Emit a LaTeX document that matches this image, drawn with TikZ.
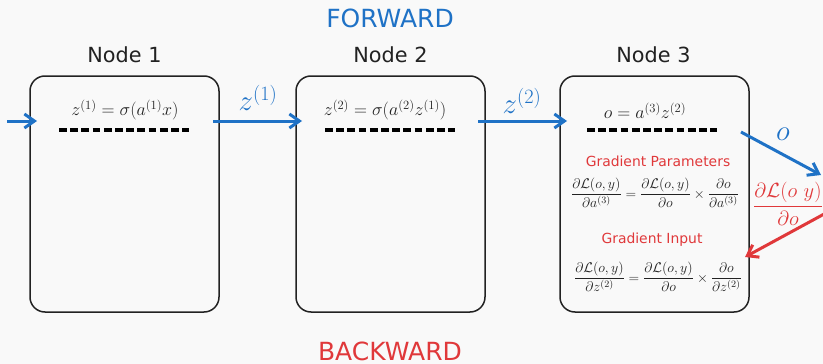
\RequirePackage{fix-cm}
\documentclass[tikz,border=0pt]{standalone}
\usepackage{amsmath}
\usepackage{fontspec}
\setmainfont{DejaVu Sans}
\usetikzlibrary{arrows.meta}

\definecolor{bgcol}{HTML}{F9F9F9}
\definecolor{fwdblue}{HTML}{1F72C6}
\definecolor{bwdred}{HTML}{E0383A}
\definecolor{ink}{HTML}{222222}

\tikzset{
  stage/.style={draw=ink, line width=1.5pt, rounded corners=15pt,
    minimum width=189pt, minimum height=236pt, inner sep=0pt, outer sep=0pt},
  stagetitle/.style={text=ink, font=\fontsize{20.8}{24}\selectfont, inner sep=0pt},
  formula/.style={text=ink, font=\fontsize{18}{21}\selectfont, inner sep=0pt},
  gradeq/.style={text=ink, font=\fontsize{14}{17}\selectfont, inner sep=0pt},
  gradhead/.style={text=bwdred, font=\fontsize{13.9}{16}\selectfont, inner sep=0pt},
  dashrule/.style={draw=black, line width=3.6pt, dash pattern=on 7.7pt off 3.5pt},
  fwdarrow/.style={draw=fwdblue, line width=3pt, -{Straight Barb[length=10pt,width=14pt]}},
  bwdarrow/.style={draw=bwdred, line width=3pt, -{Straight Barb[length=10pt,width=14pt]}},
  fwdlabel/.style={text=fwdblue, font=\fontsize{29}{32}\selectfont, inner sep=0pt},
  bwdlabel/.style={text=bwdred, font=\fontsize{20.5}{24}\selectfont, inner sep=0pt},
  banner/.style={font=\fontsize{25}{29}\selectfont, inner sep=0pt},
}

\begin{document}
\begin{tikzpicture}[x=1pt,y=-1pt]
  % canvas
  \fill[bgcol] (0,0) rectangle (823,364);
  \useasboundingbox (0,0) rectangle (823,364);

  % headings
  \node[banner, text=fwdblue] (fwd) at (390,18) {FORWARD};
  \node[banner, text=bwdred] (bwd) at (390,351) {BACKWARD};

  % the three computation stages
  \node[stage] (n1) at (124.5,194) {};
  \node[stage] (n2) at (390.5,194) {};
  \node[stage] (n3) at (654.5,194) {};

  \node[stagetitle] (t1) at (124.5,55) {Node 1};
  \node[stagetitle] (t2) at (390.5,55) {Node 2};
  \node[stagetitle] (t3) at (653.5,55) {Node 3};

  % forward formulas
  \node[formula] (f1) at (125,110) {$z^{(1)} = \sigma(a^{(1)}x)$};
  \node[formula] (f2) at (385,110) {$z^{(2)} = \sigma(a^{(2)}z^{(1)})$};
  \node[formula] (f3) at (645,111) {$o = a^{(3)}z^{(2)}$};

  \draw[dashrule] (59,130) -- (189,130);
  \draw[dashrule] (325,130) -- (455,130);
  \draw[dashrule] (587,130) -- (717,130);

  % gradients inside the last stage
  \node[gradhead] (gp) at (658,161) {Gradient Parameters};
  \node[gradeq] (ge1) at (655,193)
    {$\dfrac{\partial\mathcal{L}(o,y)}{\partial a^{(3)}} = \dfrac{\partial\mathcal{L}(o,y)}{\partial o}\times\dfrac{\partial o}{\partial a^{(3)}}$};
  \node[gradhead] (gi) at (652,240) {Gradient Input};
  \node[gradeq] (ge2) at (658,277)
    {$\dfrac{\partial\mathcal{L}(o,y)}{\partial z^{(2)}} = \dfrac{\partial\mathcal{L}(o,y)}{\partial o}\times\dfrac{\partial o}{\partial z^{(2)}}$};

  % connector end points
  \coordinate (in0) at (7,121);
  \coordinate (in1) at (37,121);
  \coordinate (a1s) at (213,121);
  \coordinate (a1e) at (302,121);
  \coordinate (a2s) at (478,121);
  \coordinate (a2e) at (567,121);
  \coordinate (os) at (741,132);
  \coordinate (oe) at (821,175);
  \coordinate (gs) at (826,213);
  \coordinate (ge) at (745,257);

  % forward flow
  \draw[fwdarrow] (in0) -- (in1);
  \draw[fwdarrow] (a1s) -- (a1e);
  \draw[fwdarrow] (a2s) -- (a2e);
  \draw[fwdarrow] (os) -- (oe);

  \node[fwdlabel] (l1) at (258,98) {$z^{(1)}$};
  \node[fwdlabel] (l2) at (522,101) {$z^{(2)}$};
  \node[fwdlabel] (lo) at (783,134) {$o$};

  % backward flow
  \draw[bwdarrow] (gs) -- (ge);
  \node[bwdlabel] (lg) at (788,204) {$\dfrac{\partial\mathcal{L}(o\ y)}{\partial o}$};
\end{tikzpicture}
\end{document}
